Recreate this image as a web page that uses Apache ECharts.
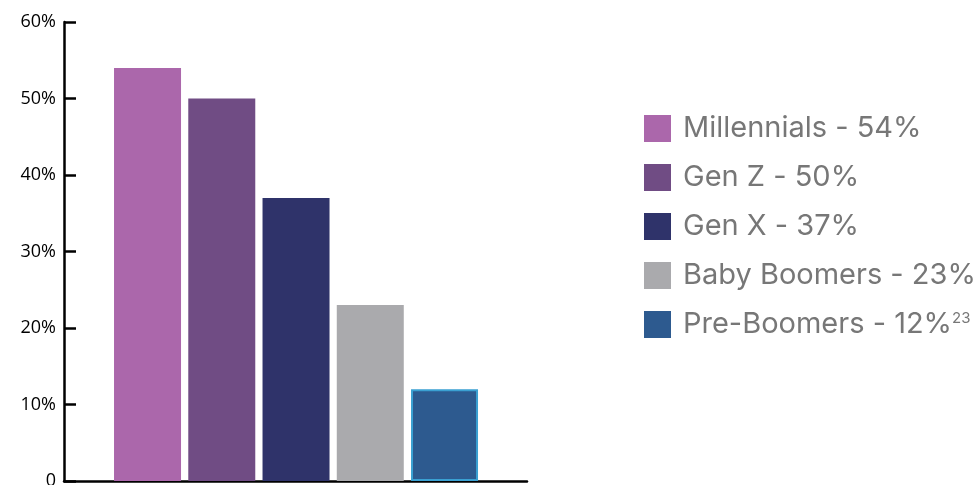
<!DOCTYPE html>
<html>
<head>
<meta charset="utf-8">
<script src="https://cdn.jsdelivr.net/npm/echarts@6/dist/echarts.min.js"></script>
<style>
  html, body { margin: 0; padding: 0; background: #fff; }
  #chart { width: 976px; height: 485px; }
</style>
</head>
<body>
<div id="chart"></div>
<script>
// generations and their share
var categories = ['Millennials', 'Gen Z', 'Gen X', 'Baby Boomers', 'Pre-Boomers']
var values = [54, 50, 37, 23, 12]
var colors = ['#ab67ab', '#704c84', '#2f336a', '#aaaaad', '#2d5a8f']
var yTicks = [0, 10, 20, 30, 40, 50, 60]

var chart = echarts.init(document.getElementById('chart'))

// one series per generation, stacked so each sits in its own slot
var series = categories.map(function (name, i) {
  return {
    name: name,
    type: 'bar',
    stack: 'all',
    xAxisIndex: 1,
    yAxisIndex: 1,
    barWidth: 67,
    itemStyle: i === 4
      ? { color: colors[i], borderColor: '#3aa0d2', borderWidth: 2 }
      : { color: colors[i] },
    data: values.map(function (v, j) { return j === i ? v : '-' })
  }
})

chart.setOption({
  animation: false,
  grid: [
    // frame with the visible axes
    { left: 64, right: 449, top: 22, bottom: 4, outerBoundsMode: 'none' },
    // bars sit inside the frame
    { left: 110.4, width: 371.25, top: 22, bottom: 4, outerBoundsMode: 'none' }
  ],
  xAxis: [
    {
      gridIndex: 0, type: 'value', min: 0, max: 1,
      axisLine: { show: true, onZero: false, lineStyle: { color: '#000', width: 2.5 } },
      axisTick: { show: false }, axisLabel: { show: false }, splitLine: { show: false }
    },
    {
      gridIndex: 1, type: 'category', data: categories, show: false
    }
  ],
  yAxis: [
    {
      gridIndex: 0, type: 'value', min: yTicks[0], max: yTicks[yTicks.length - 1], interval: 10,
      axisLine: { show: true, lineStyle: { color: '#000', width: 2.5 } },
      axisTick: { show: true, inside: true, length: 12, lineStyle: { color: '#000', width: 2.5 } },
      splitLine: { show: false },
      axisLabel: {
        margin: 8, color: '#000', fontSize: 18, fontFamily: 'Open Sans',
        formatter: function (v) { return v === 0 ? '0' : v + '%' }
      }
    },
    { gridIndex: 1, type: 'value', min: 0, max: 60, show: false }
  ],
  legend: {
    orient: 'vertical',
    left: 639,
    top: 109,
    icon: 'rect',
    itemWidth: 27,
    itemHeight: 27,
    itemGap: 20,
    data: categories.map(function (name) {
      return { name: name, itemStyle: { borderWidth: 0 } }
    }),
    formatter: function (name) {
      var i = categories.indexOf(name)
      var s = name + ' - ' + values[i] + '%'
      return i === 4 ? s + '{sup|23}' : s
    },
    textStyle: {
      color: '#777',
      fontSize: 29,
      lineHeight: 27,
      fontFamily: 'Inter',
      padding: [0, 0, 0, 7],
      rich: {
        sup: { fontSize: 15, color: '#777', fontFamily: 'Inter', verticalAlign: 'top', padding: [0, 0, 12, 0] }
      }
    }
  },
  series: series
})
</script>
</body>
</html>
